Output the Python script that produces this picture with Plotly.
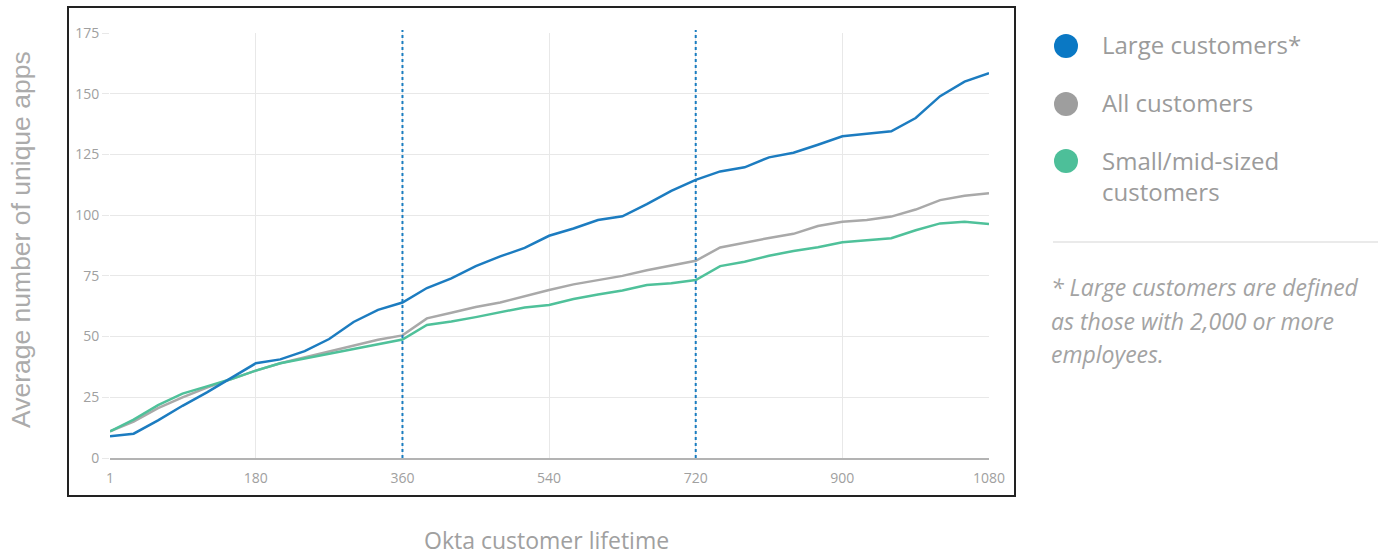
import plotly.graph_objects as go

# ---- data ----
days = [1, 30, 60, 90, 120, 150, 180, 210, 240, 270, 300, 330, 360, 390, 420, 450, 480, 510, 540,
        570, 600, 630, 660, 690, 720, 750, 780, 810, 840, 870, 900, 930, 960, 990, 1020, 1050, 1080]

large_customers = [9, 10, 15.5, 21.5, 27, 33, 39, 40.6, 44, 49, 56, 61, 64, 70, 74, 79, 83, 86.5, 91.5,
                   94.5, 98, 99.5, 104.5, 110, 114.5, 118, 119.7, 123.8, 125.7, 129, 132.5, 133.5, 134.5,
                   140, 149, 155, 158.5]

all_customers = [11, 15, 20.5, 25, 29, 32.5, 36, 39, 41.5, 44, 46.5, 48.7, 50.5, 57.5, 59.8, 62.2, 64,
                 66.7, 69.2, 71.5, 73.3, 75, 77.3, 79.2, 81.2, 86.7, 88.7, 90.6, 92.3, 95.5, 97.3, 98,
                 99.4, 102.3, 106.2, 108, 109]

small_mid_customers = [11, 15.8, 21.8, 26.5, 29.5, 32.5, 36, 39, 41, 43, 45, 46.8, 48.8, 54.8, 56.2,
                       58, 60, 62, 63, 65.5, 67.3, 69, 71.2, 72, 73.3, 79, 80.8, 83.3, 85.2, 86.8, 88.8,
                       89.5, 90.5, 93.8, 96.6, 97.3, 96.4]

x_ticks = [1, 180, 360, 540, 720, 900, 1080]
marker_days = [360, 720]

series_names = ["Large customers*", "All customers", "Small/mid-sized<br>customers"]
footnote_lines = ["* Large customers are defined", "as those with 2,000 or more", "employees."]

# ---- styling ----
W, H = 1387, 556
L, R, T, B = 110, 398, 33, 98
PW, PH = W - L - R, H - T - B

def px(xp):
    return (xp - L) / PW

def py(yp):
    return (H - B - yp) / PH

line_colors = ["#1c7cc0", "#a9a9a9", "#4fc19a"]
dot_colors = ["#0a78c4", "#9e9e9e", "#4dbf99"]
text_grey = "#9b9b9b"
grid = "#e8e8e8"

fig = go.Figure()
# draw grey and green first, blue on top
order = [(all_customers, 1), (small_mid_customers, 2), (large_customers, 0)]
for vals, i in order:
    fig.add_trace(go.Scatter(x=days, y=vals, mode="lines", name=series_names[i],
                             line=dict(color=line_colors[i], width=2.5),
                             showlegend=False, hoverinfo="x+y"))

shapes = []
# outer frame
shapes.append(dict(type="rect", xref="paper", yref="paper",
                   x0=px(68), x1=px(1015), y0=py(496), y1=py(7),
                   line=dict(color="#222222", width=2), fillcolor="rgba(0,0,0,0)", layer="above"))
# dotted reference lines
for d in marker_days:
    shapes.append(dict(type="line", xref="x", yref="paper", x0=d, x1=d, y0=0, y1=py(30),
                       line=dict(color="#1a7dc0", width=2, dash="dot"), layer="above"))
# legend dots
dot_centers = [46, 104, 161]
r = 12
for c, cy in zip(dot_colors, dot_centers):
    shapes.append(dict(type="circle", xref="paper", yref="paper",
                       x0=px(1066 - r), x1=px(1066 + r), y0=py(cy + r), y1=py(cy - r),
                       fillcolor=c, line=dict(width=0)))
# divider
shapes.append(dict(type="line", xref="paper", yref="paper", x0=px(1053), x1=px(1378),
                   y0=py(242), y1=py(242), line=dict(color="#e3e3e3", width=1.5)))

annotations = []
legend_y = [45, 103, 176]
for name, yy in zip(series_names, legend_y):
    annotations.append(dict(text=name, xref="paper", yref="paper", x=px(1100), y=py(yy),
                            xanchor="left", yanchor="middle", showarrow=False, align="left",
                            font=dict(family="Open Sans", size=24, color=text_grey)))
for line, yy in zip(footnote_lines, [287, 321, 354]):
    annotations.append(dict(text="<i>" + line + "</i>", xref="paper", yref="paper", x=px(1049), y=py(yy),
                            xanchor="left", yanchor="middle", showarrow=False, align="left",
                            font=dict(family="Open Sans", size=23, color="#a3a3a3")))
# axis titles
annotations.append(dict(text="Average number of unique apps", xref="paper", yref="paper",
                        x=px(21), y=py(240), xanchor="center", yanchor="middle", textangle=-90,
                        showarrow=False, font=dict(family="Liberation Sans", size=26.5, color="#ababab")))
annotations.append(dict(text="Okta customer lifetime", xref="paper", yref="paper",
                        x=px(546), y=py(540), xanchor="center", yanchor="middle",
                        showarrow=False, font=dict(family="Open Sans", size=23, color="#a0a0a0")))

fig.update_layout(
    width=W, height=H, autosize=False,
    margin=dict(l=L, r=R, t=T, b=B),
    paper_bgcolor="white", plot_bgcolor="white",
    shapes=shapes, annotations=annotations, showlegend=False,
    xaxis=dict(range=[1, 1080], tickvals=x_ticks, ticktext=[str(v) for v in x_ticks],
               showgrid=True, gridcolor=grid, gridwidth=1, zeroline=False,
               showline=True, linecolor="#b3b3b3", linewidth=1.5, ticks="",
               ticklabelstandoff=6,
               tickfont=dict(family="Open Sans", size=14, color="#a0a0a0")),
    yaxis=dict(range=[0, 175], dtick=25, showgrid=True, gridcolor=grid, gridwidth=1,
               zeroline=False, showline=False, ticks="outside", ticklen=7, tickcolor=grid,
               tickfont=dict(family="Open Sans", size=14, color="#a0a0a0")),
)

fig.write_html("out.html")
